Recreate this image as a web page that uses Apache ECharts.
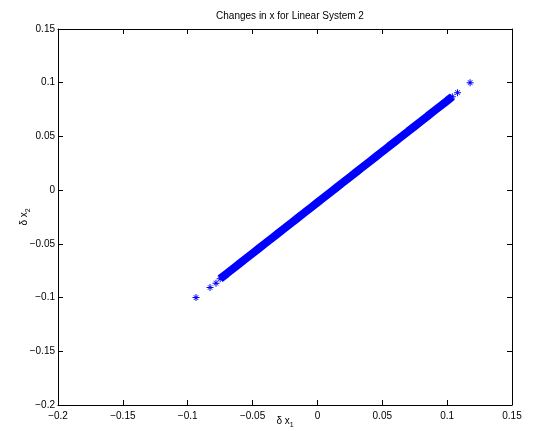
<!DOCTYPE html>
<html>
<head>
<meta charset="utf-8">
<script src="https://cdn.jsdelivr.net/npm/echarts@6/dist/echarts.min.js"></script>
<style>
  html, body { margin: 0; padding: 0; background: #fff; }
  #chart { width: 548px; height: 431px; }
</style>
</head>
<body>
<div id="chart"></div>
<script>
// dense band of perturbations
const bandX = [-0.075, -0.070, -0.065, -0.060, -0.055, -0.050, -0.045, -0.040, -0.035, -0.030,
  -0.025, -0.020, -0.015, -0.010, -0.005, 0.000, 0.005, 0.010, 0.015, 0.020,
  0.025, 0.030, 0.035, 0.040, 0.045, 0.050, 0.055, 0.060, 0.065, 0.070,
  0.075, 0.080, 0.085, 0.090, 0.095, 0.100, 0.104, 0.108]
const bandY = [-0.0825, -0.0778, -0.0730, -0.0683, -0.0636, -0.0588, -0.0541, -0.0494, -0.0446, -0.0399,
  -0.0352, -0.0304, -0.0257, -0.0210, -0.0162, -0.0115, -0.0068, -0.0020, 0.0027, 0.0074,
  0.0122, 0.0169, 0.0216, 0.0264, 0.0311, 0.0358, 0.0406, 0.0453, 0.0500, 0.0548,
  0.0595, 0.0642, 0.0690, 0.0737, 0.0784, 0.0832, 0.0870, 0.0907]
// isolated points at the ends
const outX = [-0.0936, -0.0828, -0.0782, 0.1177]
const outY = [-0.1000, -0.0906, -0.0866, 0.1000]

const xRange = [-0.2, 0.15]
const yRange = [-0.2, 0.15]
const tickStep = 0.05

const titleText = 'Changes in x for Linear System 2'

// MATLAB style '*' marker
const star = 'path://M4.3,0h1.4v10h-1.4z M0,4.3h10v1.4h-10z M2,1.3L8.7,8L8,8.7L1.3,2Z M8,1.3L8.7,2L2,8.7L1.3,8Z'

const fmt = v => String(+v.toFixed(2)).replace('-', '\u2212')

const bandPts = bandX.map((x, i) => [x, bandY[i]])
const linePts = bandPts.filter(p => p[0] <= 0.105)
const outPts = outX.map((x, i) => [x, outY[i]])

const chart = echarts.init(document.getElementById('chart'))

const font = 'Liberation Sans, Arial, sans-serif'
// ticks pointing into the box (negative length on the outside)
const axisBase = {
  type: 'value',
  interval: tickStep,
  splitLine: { show: false },
  axisLine: { show: true, onZero: false, lineStyle: { color: '#000', width: 1 } },
  axisTick: { show: true, inside: false, length: -5, lineStyle: { color: '#000', width: 1 } }
}
const labelStyle = { color: '#000', fontSize: 10, fontFamily: font, formatter: fmt, showMinLabel: true, showMaxLabel: true }
const nameRich = {
  a: { fontSize: 10, lineHeight: 10, verticalAlign: 'top', color: '#000', fontFamily: font },
  s: { fontSize: 7, lineHeight: 13, verticalAlign: 'bottom', color: '#000', fontFamily: font }
}

chart.setOption({
  animation: false,
  title: {
    text: titleText,
    left: 285,
    textAlign: 'center',
    top: 6,
    textStyle: { fontSize: 10, fontWeight: 'normal', color: '#000', fontFamily: font }
  },
  grid: { left: 58, right: 36, top: 29, bottom: 26, containLabel: false, outerBoundsMode: 'none' },
  xAxis: [
    Object.assign({}, axisBase, {
      min: xRange[0], max: xRange[1], position: 'bottom',
      axisLabel: Object.assign({}, labelStyle, { margin: 6 }),
      name: '{a|\u03b4 x}{s|1}', nameLocation: 'middle', nameGap: 11, nameMoveOverlap: false,
      nameTextStyle: { rich: nameRich }
    }),
    Object.assign({}, axisBase, {
      min: xRange[0], max: xRange[1], position: 'top',
      axisLabel: { show: false }
    })
  ],
  yAxis: [
    Object.assign({}, axisBase, {
      min: yRange[0], max: yRange[1], position: 'left',
      axisLabel: Object.assign({}, labelStyle, { margin: 3 }),
      name: '{a|\u03b4 x}{s|2}', nameLocation: 'middle', nameGap: 26, nameRotate: 90, nameMoveOverlap: false,
      nameTextStyle: { rich: nameRich }
    }),
    Object.assign({}, axisBase, {
      min: yRange[0], max: yRange[1], position: 'right',
      axisLabel: { show: false }
    })
  ],
  series: [
    {
      type: 'line',
      data: linePts,
      showSymbol: false,
      symbol: 'none',
      lineStyle: { color: '#0000ff', width: 8, cap: 'butt' },
      z: 2
    },
    {
      type: 'scatter',
      data: bandPts.concat(outPts),
      symbol: star,
      symbolSize: 7,
      itemStyle: { color: '#0000ff', opacity: 1 },
      z: 3
    }
  ]
})
</script>
</body>
</html>
